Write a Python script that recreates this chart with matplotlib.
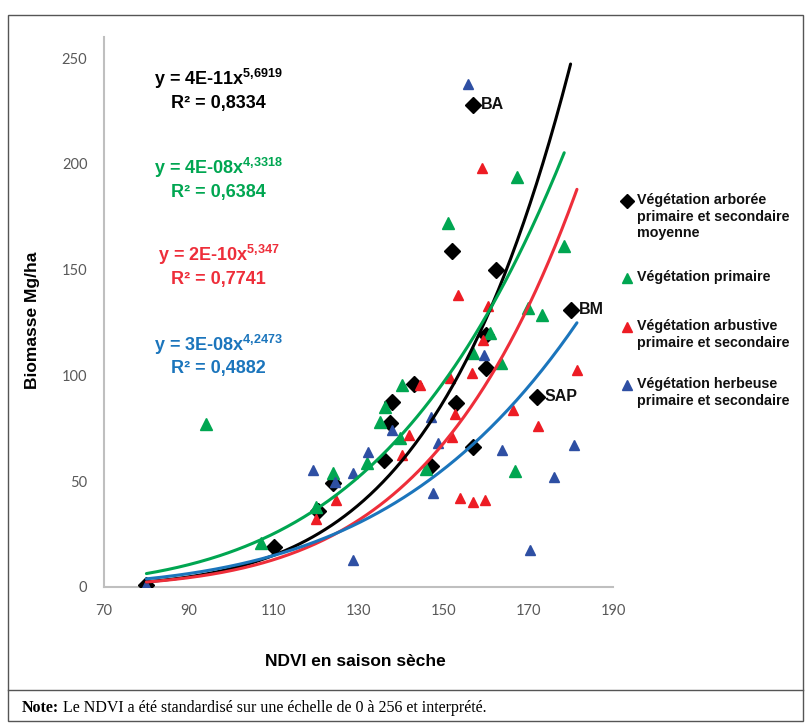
import matplotlib
matplotlib.use("Agg")
import matplotlib.pyplot as plt
from matplotlib import font_manager
from matplotlib.lines import Line2D
from matplotlib.patches import Rectangle
import numpy as np

# Data
black_x = [80, 110, 120.5, 124, 136, 137.5, 138, 143, 147, 153, 157, 160, 172,
           157, 152, 162.5, 180, 160]
black_y = [1, 19, 36, 49, 60, 77.5, 87.5, 96, 57, 87, 66, 103.5, 90,
           228, 159, 150, 131, 119]

green_x = [94, 107, 120, 124, 132, 139.8, 135, 136.3, 140.3, 146, 157, 161,
           163.6, 167, 151, 167.4, 178.5, 170, 173.3]
green_y = [77, 21, 38, 54, 58.6, 70.4, 78, 85, 95.5, 56, 110.6, 120,
           106, 55, 172, 194, 161, 132, 128.5]

red_x = [120, 124.7, 140.3, 142, 144.5, 151.6, 156.8, 152.8, 152, 154, 157,
         159.9, 159.4, 166.5, 172.4, 181.6, 159.2, 153.5, 160.5]
red_y = [32, 41, 62.4, 72, 95.5, 98.8, 101, 82, 71, 42, 40,
         41, 116.7, 83.6, 76, 102.5, 198, 138, 133]

blue_x = [80, 119.3, 124.5, 128.7, 132.3, 138, 128.7, 147.2, 148.8, 147.6,
          159.6, 163.9, 170.5, 176, 180.7, 155.8]
blue_y = [1, 55.3, 49.6, 53.9, 63.8, 74, 12.8, 80.2, 68, 44.4,
          109.6, 64.7, 17.5, 52, 67, 238]

# Power trendlines y = a * x^b (a as drawn, b from the equations)
trend_a = [3.6e-11, 3.62e-8, 1.57e-10, 3.18e-8]
trend_b = [5.6919, 4.3318, 5.347, 4.2473]
trend_xmax = [180, 178.5, 181.5, 181.5]
eq_text = ["4E-11", "4E-08", "2E-10", "3E-08"]
eq_pow = ["5{,}6919", "4{,}3318", "5{,}347", "4{,}2473"]
r2_text = ["0,8334", "0,6384", "0,7741", "0,4882"]
eq_y = [[240, 228.5], [198, 186.5], [157, 145.5], [114.5, 103.5]]

legend_labels = ["Végétation arborée\nprimaire et secondaire\nmoyenne",
                 "Végétation primaire",
                 "Végétation arbustive\nprimaire et secondaire",
                 "Végétation herbeuse\nprimaire et secondaire"]

line_colors = ["#000000", "#00A651", "#EE2E3A", "#1B75BC"]
marker_colors = ["#000000", "#00A651", "#ED1C24", "#2E4FA3"]

names = {f.name for f in font_manager.fontManager.ttflist}
bold_font = "Liberation Sans Narrow" if "Liberation Sans Narrow" in names else "Liberation Sans"
plt.rcParams["mathtext.fontset"] = "custom"
plt.rcParams["mathtext.bf"] = bold_font + ":bold"
plt.rcParams["mathtext.rm"] = bold_font + ":bold"

W, H = 811, 725
fig = plt.figure(figsize=(W / 100, H / 100), dpi=100)


def fx(px):
    return px / W


def fy(py):
    return 1 - py / H


ax = fig.add_axes([fx(104), fy(587), fx(613) - fx(104), fy(37) - fy(587)])
ax.set_xlim(70, 190)
ax.set_ylim(0, 260)
ax.set_xticks(range(70, 191, 20))
ax.set_yticks(range(0, 251, 50))
for s in ["top", "right"]:
    ax.spines[s].set_visible(False)
for s in ["left", "bottom"]:
    ax.spines[s].set_color("#BFBFBF")
    ax.spines[s].set_linewidth(1.5)
ax.tick_params(length=0, pad=12, labelsize=10.5, labelcolor="#595959")
for lab in ax.get_xticklabels() + ax.get_yticklabels():
    lab.set_family("Lato")

# Scatter series
ax.plot(black_x, black_y, "D", color=marker_colors[0], ms=8.5, zorder=3)
ax.plot(green_x, green_y, "^", color=marker_colors[1], ms=8, zorder=3)
ax.plot(red_x, red_y, "^", color=marker_colors[2], ms=7.5, zorder=3)
ax.plot(blue_x, blue_y, "^", color=marker_colors[3], ms=7.5, zorder=3)

# Trendlines and equations
for i in range(4):
    xs = np.linspace(80, trend_xmax[i], 200)
    ax.plot(xs, trend_a[i] * xs ** trend_b[i], color=line_colors[i], lw=2.2,
            zorder=4, solid_capstyle="round")
    ax.text(97, eq_y[i][0], "y = " + eq_text[i] + "x$^{\\mathbf{" + eq_pow[i] + "}}$",
            ha="center", va="center", fontsize=13, family=bold_font,
            weight="bold", color=line_colors[i])
    ax.text(97, eq_y[i][1], "R² = " + r2_text[i], ha="center", va="center",
            fontsize=13, family=bold_font, weight="bold", color=line_colors[i])

# Point labels
for name, x, y in [("BA", 157, 228), ("BM", 180, 131), ("SAP", 172, 90)]:
    ax.annotate(name, (x, y), xytext=(6, 0), textcoords="offset points",
                ha="left", va="center", fontsize=11.5, family=bold_font,
                weight="bold", color="#111111")

# Axis titles
fig.text(fx(33), fy(320), "Biomasse Mg/ha", rotation=90, ha="center",
         va="center", fontsize=12.5, family=bold_font, weight="bold")
fig.text(fx(355), fy(661), "NDVI en saison sèche", ha="center", va="center",
         fontsize=12.5, family=bold_font, weight="bold")

# Legend drawn by hand
leg_y = [201, 278, 327, 385]
leg_markers = ["D", "^", "^", "^"]
for i in range(4):
    fig.add_artist(Line2D([fx(627)], [fy(leg_y[i])], transform=fig.transFigure,
                          marker=leg_markers[i], color=marker_colors[i],
                          ms=7 if i == 0 else 6.5, linestyle="none"))
    fig.text(fx(637), fy(leg_y[i] - 8), legend_labels[i], ha="left", va="top",
             fontsize=10.3, family=bold_font, weight="bold", color="#111111",
             linespacing=1.25)

# Outer frame and note
fig.add_artist(Rectangle((fx(8), fy(721)), fx(803) - fx(8), fy(15) - fy(721),
                         transform=fig.transFigure, fill=False,
                         edgecolor="#555555", lw=1))
fig.add_artist(Line2D([fx(8), fx(803)], [fy(690), fy(690)],
                      transform=fig.transFigure, color="#555555", lw=1))
note = fig.text(fx(22), fy(708), "Note:", ha="left", va="center",
                fontsize=11.5, family="Liberation Serif", weight="bold")
fig.canvas.draw()
bb = note.get_window_extent()
fig.text(bb.x1 / W + fx(4), fy(708),
         "Le NDVI a été standardisé sur une échelle de 0 à 256 et interprété.",
         ha="left", va="center", fontsize=11.5, family="Liberation Serif")

fig.savefig("out.png", dpi=100)
